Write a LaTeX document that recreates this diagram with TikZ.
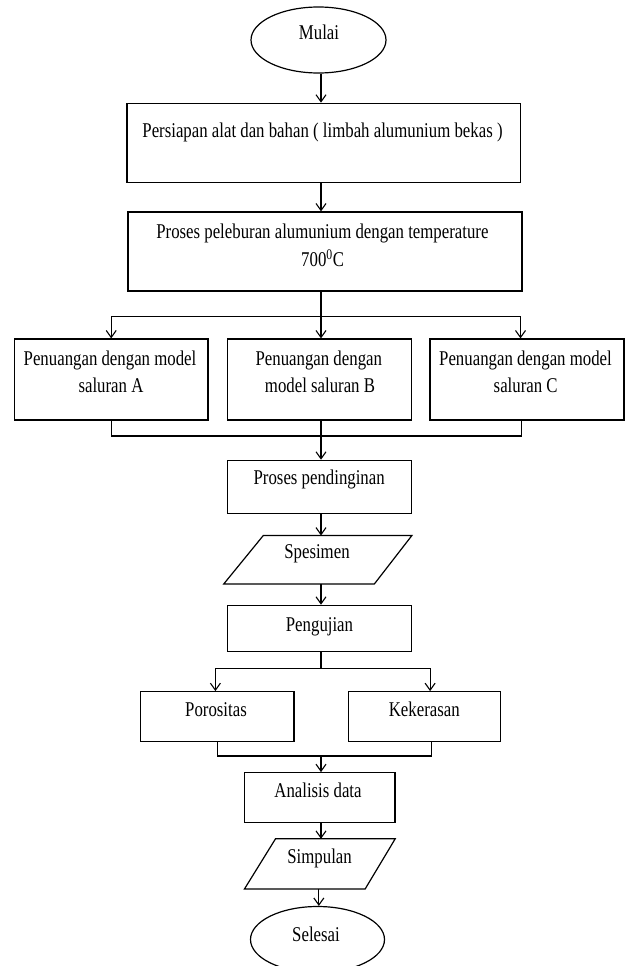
\documentclass[tikz,border=0pt]{standalone}
\usepackage{fontspec}
\setmainfont{Liberation Serif}[FakeStretch=0.8]
\usetikzlibrary{arrows.meta,shapes.geometric,calc}
\begin{document}
\begin{tikzpicture}[x=1pt,y=-1pt,
  box/.style={draw, rectangle, line width=1.2pt, inner sep=0pt},
  ell/.style={draw, ellipse, line width=1.2pt, inner sep=0pt},
  ghost/.style={rectangle, inner sep=0pt},
  txt/.style={font=\fontsize{21pt}{28pt}\selectfont, inner sep=0pt, anchor=base},
  ln/.style={line width=1.1pt},
  arr/.style={line width=1.1pt, -{Straight Barb[length=7pt,width=10pt,line width=1.1pt]}}]
\useasboundingbox (0,0) rectangle (625,966);
\fill[white] (0,0) rectangle (625,966);
\coordinate (axis) at (321,0);
% shapes
\node[ell, minimum width=135pt, minimum height=66pt] (mulai) at (318.5,40) {};
\node[box, minimum width=393.5pt, minimum height=79.5pt] (b1) at (323.8,143) {};
\node[box, minimum width=394pt, minimum height=79pt] (b2) at (325,251.5) {};
\node[box, minimum width=193.7pt, minimum height=81pt] (bA) at (111.2,379.5) {};
\node[box, minimum width=184pt, minimum height=81pt] (bB) at (319.6,379.5) {};
\node[box, minimum width=194pt, minimum height=81pt] (bC) at (527,379.5) {};
\node[box, minimum width=184pt, minimum height=53pt] (bP) at (319.6,486.8) {};
\node[ghost, minimum width=187.7pt, minimum height=48pt] (spes) at (317.85,559.7) {};
\draw[line width=1.2pt] (spes.south west) -- ($(spes.north west)+(39.5,0)$) -- (spes.north east) -- ($(spes.south east)+(-37.5,0)$) -- cycle;
\node[box, minimum width=184pt, minimum height=46.4pt] (bU) at (319.6,628.5) {};
\node[box, minimum width=153.3pt, minimum height=50pt] (bPor) at (217.4,716.7) {};
\node[box, minimum width=152pt, minimum height=50pt] (bKek) at (424.6,716.7) {};
\node[box, minimum width=150.3pt, minimum height=49.6pt] (bAn) at (319.9,797.5) {};
\node[ghost, minimum width=150.3pt, minimum height=49.7pt] (simp) at (319.85,863.85) {};
\draw[line width=1.2pt] (simp.south west) -- ($(simp.north west)+(31,0)$) -- (simp.north east) -- ($(simp.south east)+(-30,0)$) -- cycle;
\node[ell, minimum width=134pt, minimum height=66pt] (sel) at (317.5,939.5) {};
% texts
\node[txt] (t0) at (319,40) {Mulai};
\node[txt] (t1) at (322.5,137) {Persiapan alat dan bahan ( limbah alumunium bekas )};
\node[txt] (t2a) at (322.4,238.3) {Proses peleburan alumunium dengan temperature};
\node[txt] (t2b) at (322.6,266.7) {700\textsuperscript{0}C};
\node[txt] (tA1) at (110,365) {Penuangan dengan model};
\node[txt] (tA2) at (111,392.7) {saluran A};
\node[txt] (tB1) at (318.8,365) {Penuangan dengan};
\node[txt] (tB2) at (320,392.7) {model saluran B};
\node[txt] (tC1) at (525.5,365) {Penuangan dengan model};
\node[txt] (tC2) at (525.7,392.7) {saluran C};
\node[txt] (tP) at (319.2,484.5) {Proses pendinginan};
\node[txt] (tS) at (317,558) {Spesimen};
\node[txt] (tU) at (319.5,631) {Pengujian};
\node[txt] (tPor) at (216,716.7) {Porositas};
\node[txt] (tKek) at (424.3,716.7) {Kekerasan};
\node[txt] (tAn) at (318,797) {Analisis data};
\node[txt] (tSim) at (319.6,863) {Simpulan};
\node[txt] (tSel) at (316,941.7) {Selesai};
% connectors
\draw[arr] (axis |- mulai.south) -- (axis |- b1.north);
\draw[arr] (axis |- b1.south) -- (axis |- b2.north);
\coordinate (s1) at (321,316.7);
\draw[ln] (axis |- b2.south) -- (s1);
\draw[arr] (s1) -| (bA.north);
\draw[arr] (s1) -- (s1 |- bB.north);
\draw[arr] (s1) -| ([xshift=-6.5pt]bC.north);
\coordinate (m1) at (321,436);
\draw[ln] (bA.south) |- (m1);
\draw[ln] ([xshift=-5.7pt]bC.south) |- (m1);
\draw[arr] (axis |- bB.south) -- (axis |- bP.north);
\draw[arr] (axis |- bP.south) -- (axis |- spes.north);
\draw[arr] (axis |- spes.south) -- (axis |- bU.north);
\coordinate (s2) at (321,668.3);
\draw[ln] (axis |- bU.south) -- (s2);
\draw[arr] (s2) -| ([xshift=-2pt]bPor.north);
\draw[arr] (s2) -| ([xshift=5.5pt]bKek.north);
\coordinate (m2) at (321,756);
\draw[ln] (bPor.south) |- (m2);
\draw[ln] ([xshift=6.5pt]bKek.south) |- (m2);
\draw[arr] (m2) -- (axis |- bAn.north);
\draw[arr] (axis |- bAn.south) -- (axis |- simp.north);
\draw[arr] ([xshift=-1pt]simp.south) -- ([xshift=-1pt]simp.south |- sel.north);
\end{tikzpicture}
\end{document}
